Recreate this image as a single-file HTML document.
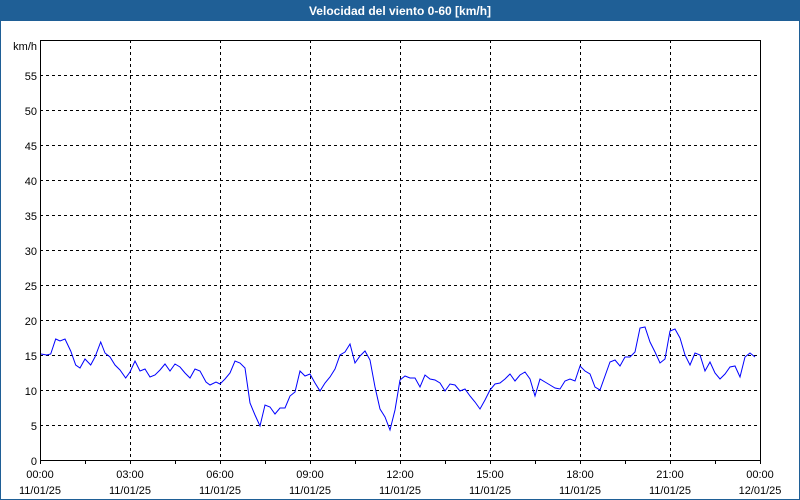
<!DOCTYPE html>
<html><head><meta charset="utf-8"><style>
html,body{margin:0;padding:0;background:#fff}
svg{display:block}
text{font-family:"Liberation Sans",sans-serif;font-size:11px;fill:#000}
</style></head><body>
<svg width="800" height="500" viewBox="0 0 800 500" xmlns="http://www.w3.org/2000/svg">
<rect x="0" y="0" width="800" height="500" fill="#fff"/>
<rect x="0" y="0" width="800" height="21" fill="#1f5f96"/>
<rect x="0.5" y="0.5" width="799" height="499" fill="none" stroke="#1f5f96"/>
<text x="400" y="15" text-anchor="middle" style="fill:#fff;font-weight:bold;font-size:12px">Velocidad del viento 0-60 [km/h]</text>
<g stroke="#000" stroke-dasharray="3,3" stroke-width="1">
<path d="M40 75.5H760M40 110.5H760M40 145.5H760M40 180.5H760M40 215.5H760M40 250.5H760M40 285.5H760M40 320.5H760M40 355.5H760M40 390.5H760M40 425.5H760"/>
<path d="M130.5 40V460M220.5 40V460M310.5 40V460M400.5 40V460M490.5 40V460M580.5 40V460M670.5 40V460"/>
</g>
<rect x="40.5" y="40.5" width="720" height="420" fill="none" stroke="#000"/>
<g stroke="#000"><path d="M40.5 460V464M85.5 460V464M130.5 460V464M175.5 460V464M220.5 460V464M265.5 460V464M310.5 460V464M355.5 460V464M400.5 460V464M445.5 460V464M490.5 460V464M535.5 460V464M580.5 460V464M625.5 460V464M670.5 460V464M715.5 460V464M760.5 460V464"/></g>
<g text-anchor="end">
<text x="37" y="50">km/h</text>
<text x="37" y="80">55</text><text x="37" y="115">50</text><text x="37" y="150">45</text><text x="37" y="185">40</text><text x="37" y="220">35</text><text x="37" y="255">30</text><text x="37" y="290">25</text><text x="37" y="325">20</text><text x="37" y="360">15</text><text x="37" y="395">10</text><text x="37" y="430">5</text><text x="37" y="465">0</text>
</g>
<g text-anchor="middle">
<text x="40" y="478">00:00</text><text x="40" y="494">11/01/25</text>
<text x="130" y="478">03:00</text><text x="130" y="494">11/01/25</text>
<text x="220" y="478">06:00</text><text x="220" y="494">11/01/25</text>
<text x="310" y="478">09:00</text><text x="310" y="494">11/01/25</text>
<text x="400" y="478">12:00</text><text x="400" y="494">11/01/25</text>
<text x="490" y="478">15:00</text><text x="490" y="494">11/01/25</text>
<text x="580" y="478">18:00</text><text x="580" y="494">11/01/25</text>
<text x="670" y="478">21:00</text><text x="670" y="494">11/01/25</text>
<text x="760" y="478">00:00</text><text x="760" y="494">12/01/25</text>
</g>
<polyline fill="none" stroke="#0000ff" stroke-width="1" points="41,354 46.7,355 50.7,354 55.7,339 60,341 65,339 70.7,351 75.7,365 80,368 85,359 90.7,365 95,357 100.7,342 105,353 110,357 115,365 120,370 125.7,378 130,372 135,361 140,371 145,369 150,377 155,375 160,370 165,364 170,371 175,364 180,367 185,373 190,378 195,369 200,371 206,382 210,385 216,382 220,384 225,379 230,373 235,361 240,363 245,368 250,403 255,415 260,426 265,405 270,407 275,414 280,408 285,408 290,396 295,392 300,371 305,376 310,374 315,383 320,391 325,383 330,377 335,369 340,355 345,352 350,344 355,363 360,356 365,351 370,360 375,387 380,409 385,417 390,430 395,410 400,380 405,376 410,378 415,378 420,387 425,375 430,379 435,380 440,383 445,391 450,384 455,385 460,391 465,389 470,396 475,402 480,409 485,400 490,390 495,384 500,383 505,379 510,374 515,381 520,375 525,372 530,379 535,396 540,379 545,382 550,385 555,388 560,389 565,381 570,379 575,381 580,366 585,371 590,374 595,387 600,390 605,376 610,362 615,360 620,366 625,357 630,357 635,352 640,328 645,327 650,342 655,352 660,363 665,359 670,331 675,329 680,338 685,355 690,365 695,353 700,355 705,371 710,362 715,373 720,379 725,374 730,367 735,366 740,377 745,357 750,353 755,357"/>
</svg>
</body></html>
